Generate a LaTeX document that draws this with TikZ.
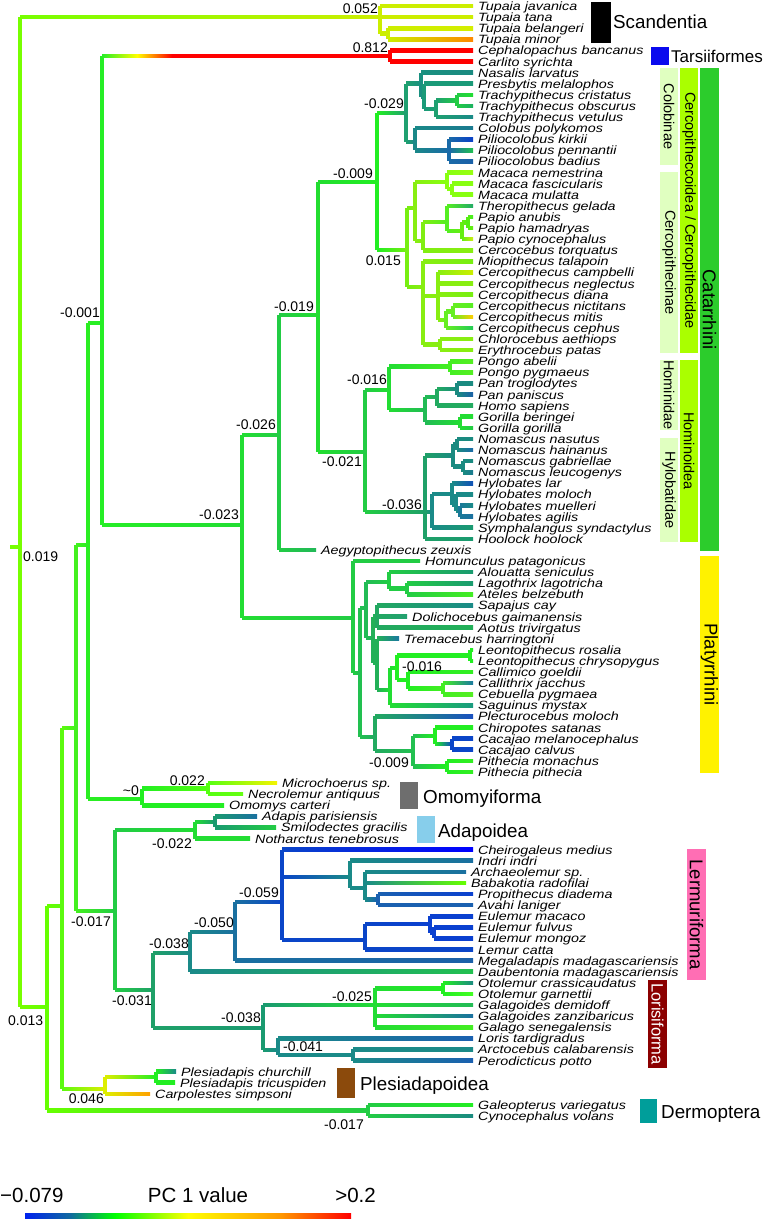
\documentclass[tikz,border=0pt]{standalone}
\usepackage{fontspec}
\setmainfont{Liberation Sans}
\usetikzlibrary{calc}
\newcommand\nd[4]{\coordinate (#1) at (#2,#3);\definecolor{kk#1}{HTML}{#4}}
\newcommand\lf[5]{\coordinate (#1) at (#2,#3);\definecolor{kk#1}{HTML}{#4}\node[leaf] (t#1) at ($(#1)+(5,4.5)$) {\scalebox{1}[0.84]{#5}};}
\newcommand\br[2]{\draw[brl,kk#1] (#1) -- (#1 |- #2);\shade[left color=kk#1,right color=kk#2] ($(#1 |- #2)+(0,-1.8)$) rectangle ($(#2)+(0,1.8)$);}
\definecolor{palegr}{HTML}{E0FFC0}
\definecolor{limegr}{HTML}{AAFF00}
\definecolor{catgr}{HTML}{2CCC2C}
\begin{document}
\begin{tikzpicture}[x=1pt,y=-1pt,
  brl/.style={line width=3.6pt,line cap=square},
  leaf/.style={font=\fontsize{14.3}{16}\selectfont\itshape,inner sep=0pt,anchor=base west},
  nlab/.style={font=\fontsize{14}{16}\selectfont,inner sep=0pt},
  clab/.style={font=\fontsize{18.8}{20}\selectfont,inner sep=0pt,anchor=base west},
  vbox/.style={rotate=-90,inner sep=0pt,font=\fontsize{14.5}{16}\selectfont},
  bigvbox/.style={rotate=-90,inner sep=0pt,font=\fontsize{18.5}{20}\selectfont},
  sqbox/.style={inner sep=0pt},
  cbl/.style={font=\fontsize{20.5}{22}\selectfont,inner sep=0pt}]
\fill[white] (0,0) rectangle (765,1219);
\useasboundingbox (0,0) rectangle (765,1219);
% ---------- backbone ----------
\nd{root}{20}{547}{77FF00}
\coordinate (stub) at (10,547);
\nd{scand}{380}{17.1}{CCEE00}
\nd{tupBM}{388}{33.75}{CCEE00}
\lf{tjav}{473}{6.0}{CCEE00}{Tupaia javanica}
\lf{ttan}{473}{17.1}{CCEE00}{Tupaia tana}
\lf{tbel}{473}{28.2}{D4EE00}{Tupaia belangeri}
\lf{tmin}{473}{39.3}{FF8800}{Tupaia minor}
\nd{n47}{47}{1007}{66FF00}
\nd{n62}{62}{906}{5CFA10}
\nd{n76}{76}{728}{44F020}
\nd{n88}{88}{545}{2AEE22}
\nd{n102}{102}{323}{26EE26}
\nd{tars}{390}{56}{FF0000}
\coordinate (tarsM) at (172,56);
\lf{ceph}{473}{50.4}{FF0000}{Cephalopachus bancanus}
\lf{carl}{473}{61.5}{FF0000}{Carlito syrichta}
% ---------- Catarrhini ----------
\nd{anth}{242}{525}{22DD33}
\nd{cat}{279}{435}{22CC44}
\lf{aegy}{316}{549.9}{22B858}{Aegyptopithecus zeuxis}
\nd{crcat}{318}{315}{22DD30}
\nd{cercid}{377}{182}{22EE22}
\nd{colob}{406}{113}{1FA070}
\nd{colA}{421}{83.7}{1A9080}
\nd{colA2}{424}{97}{1A9A78}
\nd{trach}{436}{109}{1FA070}
\nd{trachCO}{457}{100.35}{22CC44}
\nd{colB}{415}{142}{1A8888}
\nd{pil}{449}{150.3}{1A6AA8}
\lf{nasa}{473}{72.6}{1A8A80}{Nasalis larvatus}
\lf{pres}{473}{83.7}{1A9A78}{Presbytis melalophos}
\lf{tcri}{473}{94.8}{22DD33}{Trachypithecus cristatus}
\lf{tobs}{473}{105.9}{1AB060}{Trachypithecus obscurus}
\lf{tvet}{473}{117.0}{1A8A88}{Trachypithecus vetulus}
\lf{colo}{473}{128.1}{1A7A90}{Colobus polykomos}
\lf{pkir}{473}{139.2}{0A40C8}{Piliocolobus kirkii}
\lf{ppen}{473}{150.3}{20C050}{Piliocolobus pennantii}
\lf{pbad}{473}{161.4}{1A60A8}{Piliocolobus badius}
\nd{cercin}{407}{250}{77EE11}
\nd{papi}{415}{208}{88EE11}
\nd{mac}{447}{182}{88FF11}
\nd{macFM}{452}{189.15}{88FF11}
\nd{papB}{423}{241}{80EE11}
\nd{tp}{447}{222}{55EE22}
\nd{papio}{462}{231}{66EE11}
\nd{papAH}{468}{222.45}{55EE11}
\lf{mnem}{473}{172.5}{99FF11}{Macaca nemestrina}
\lf{mfas}{473}{183.6}{88FF11}{Macaca fascicularis}
\lf{mmul}{473}{194.7}{88FF11}{Macaca mulatta}
\lf{thge}{473}{205.8}{22AA66}{Theropithecus gelada}
\lf{panu}{473}{216.9}{44EE22}{Papio anubis}
\lf{pham}{473}{228.0}{66EE11}{Papio hamadryas}
\lf{pcyn}{473}{239.1}{CCEE11}{Papio cynocephalus}
\lf{ctor}{473}{250.2}{88EE11}{Cercocebus torquatus}
\nd{cerci}{423}{287}{88EE11}
\nd{cerco}{438}{296}{88EE11}
\nd{cercoB}{446}{320}{66EE22}
\nd{nm}{453}{311.25}{66EE22}
\nd{chlER}{440}{344.55}{88EE11}
\lf{mtal}{473}{261.3}{77EE11}{Miopithecus talapoin}
\lf{ccam}{473}{272.4}{CCEE00}{Cercopithecus campbelli}
\lf{cneg}{473}{283.5}{88EE11}{Cercopithecus neglectus}
\lf{cdia}{473}{294.6}{77EE11}{Cercopithecus diana}
\lf{cnic}{473}{305.7}{55EE22}{Cercopithecus nictitans}
\lf{cmit}{473}{316.8}{FFCC00}{Cercopithecus mitis}
\lf{ccep}{473}{327.9}{22CC55}{Cercopithecus cephus}
\lf{chla}{473}{339.0}{88EE11}{Chlorocebus aethiops}
\lf{eryp}{473}{350.1}{88EE11}{Erythrocebus patas}
\nd{homoid}{365}{452}{22CC44}
\nd{hominid}{389}{390}{22DD33}
\nd{pongo}{450}{366.75}{44EE22}
\nd{afr}{425}{410}{22BB55}
\nd{panH}{437}{397}{22AA60}
\nd{pan}{457}{388.95}{1A8A80}
\nd{gor}{460}{422.25}{22DD33}
\lf{pabe}{473}{361.2}{55EE22}{Pongo abelii}
\lf{ppyg}{473}{372.3}{55EE22}{Pongo pygmaeus}
\lf{ptro}{473}{383.4}{1A8A80}{Pan troglodytes}
\lf{ppan}{473}{394.5}{1A60A8}{Pan paniscus}
\lf{homo}{473}{405.6}{22AA60}{Homo sapiens}
\lf{gber}{473}{416.7}{22DD33}{Gorilla beringei}
\lf{ggor}{473}{427.8}{22CC44}{Gorilla gorilla}
\nd{hylob}{425}{512}{1FA068}
\nd{nom}{453}{455.5}{1A8A80}
\nd{nomA}{457}{444.45}{1A8A80}
\nd{nomB}{463}{466.65}{1A8A80}
\nd{hylS}{432}{512}{1A8A88}
\nd{hyl}{452}{494}{1A8A88}
\nd{hylB}{456}{505}{1A8A88}
\nd{hylC}{460}{511.05}{1A7898}
\lf{nnas}{473}{438.9}{1A8A80}{Nomascus nasutus}
\lf{nhai}{473}{450.0}{1A6AA8}{Nomascus hainanus}
\lf{ngab}{473}{461.1}{1A8A80}{Nomascus gabriellae}
\lf{nleu}{473}{472.2}{1A7A90}{Nomascus leucogenys}
\lf{hlar}{473}{483.3}{1050B8}{Hylobates lar}
\lf{hmol}{473}{494.4}{1A8A88}{Hylobates moloch}
\lf{hmue}{473}{505.5}{1A8A88}{Hylobates muelleri}
\lf{hagi}{473}{516.6}{1A70A0}{Hylobates agilis}
\lf{ssyn}{473}{527.7}{1A9A70}{Symphalangus syndactylus}
\lf{hhoo}{473}{538.8}{1A9A70}{Hoolock hoolock}
% ---------- Platyrrhini ----------
\nd{platy}{353}{618}{22CC44}
\lf{homu}{420}{561.0}{22CC44}{Homunculus patagonicus}
\nd{p1}{360}{673}{22C050}
\nd{p2}{366}{608}{22BB55}
\nd{atel}{389}{582}{22CC44}
\nd{LA}{407}{588.75}{22CC44}
\nd{ceb}{373}{638}{22B058}
\nd{cebD}{377}{616.5}{22A860}
\nd{cebE}{377}{663}{22B058}
\nd{calli}{390}{690}{22DD33}
\nd{cA}{397}{668}{22EE22}
\nd{leo}{470}{655.35}{22EE22}
\nd{cB}{408}{680}{22EE22}
\nd{cC}{443}{688.65}{44EE22}
\nd{pith}{375}{737}{22AA60}
\nd{pc}{413}{751}{22C050}
\nd{chc}{435}{736}{22EE22}
\nd{cac}{452}{744.15}{0A45C8}
\nd{pit}{447}{766.35}{22EE22}
\lf{alou}{473}{572.1}{1A9A70}{Alouatta seniculus}
\lf{lago}{473}{583.2}{1A9A70}{Lagothrix lagotricha}
\lf{atbe}{473}{594.3}{44EE22}{Ateles belzebuth}
\lf{sapa}{473}{605.4}{1A8A88}{Sapajus cay}
\lf{doli}{407}{616.5}{22A070}{Dolichocebus gaimanensis}
\lf{aotu}{473}{627.6}{22B058}{Aotus trivirgatus}
\lf{trem}{399}{638.7}{1A78A0}{Tremacebus harringtoni}
\lf{lros}{473}{649.8}{22EE22}{Leontopithecus rosalia}
\lf{lchr}{473}{660.9}{22EE22}{Leontopithecus chrysopygus}
\lf{cgoe}{473}{672.0}{33EE22}{Callimico goeldii}
\lf{cjac}{473}{683.1}{1A78A0}{Callithrix jacchus}
\lf{cpyg}{473}{694.2}{55EE22}{Cebuella pygmaea}
\lf{smys}{473}{705.3}{1A9A80}{Saguinus mystax}
\lf{pmol}{473}{716.4}{1A50C0}{Plecturocebus moloch}
\lf{csat}{473}{727.5}{22EE22}{Chiropotes satanas}
\lf{cmel}{473}{738.6}{0A45C8}{Cacajao melanocephalus}
\lf{ccal}{473}{749.7}{0A45C8}{Cacajao calvus}
\lf{pmon}{473}{760.8}{33EE22}{Pithecia monachus}
\lf{ppit}{473}{771.9}{33EE22}{Pithecia pithecia}
% ---------- Omomyiforma ----------
\nd{omo}{142}{799}{22EE22}
\nd{omoA}{208}{788.55}{55FF11}
\lf{micr}{277}{783.0}{F4F400}{Microchoerus sp.}
\lf{necr}{243}{794.1}{66FF11}{Necrolemur antiquus}
\lf{omom}{224}{805.2}{22EE22}{Omomys carteri}
% ---------- Strepsirrhini ----------
\nd{strep}{115}{911}{22CC44}
\nd{adap}{195}{830}{22DD33}
\nd{adapA}{215}{821.85}{1A9A70}
\lf{adpa}{257}{816.3}{1A70A0}{Adapis parisiensis}
\lf{smgr}{276}{827.4}{22CC44}{Smilodectes gracilis}
\lf{note}{250}{838.5}{22DD33}{Notharctus tenebrosus}
\nd{strC}{153}{990}{1FA068}
\nd{lem}{190}{953}{1A8A88}
\nd{lem50}{235}{932}{1A70A0}
\nd{lem59}{282}{902}{0A45C8}
\nd{ind}{350}{877}{1A8A88}
\nd{indB}{365}{888}{1A8A88}
\nd{pa}{378}{899.55}{1A60B0}
\nd{lemd}{365}{940}{0A45C8}
\nd{eul}{430}{924}{0A40D0}
\nd{eulFM}{434}{932.85}{0A40D0}
\lf{chme}{473}{849.6}{0000FF}{Cheirogaleus medius}
\lf{inin}{473}{860.7}{1A70A0}{Indri indri}
\lf{arch}{466}{871.8}{1A70A0}{Archaeolemur sp.}
\lf{baba}{466}{882.9}{66FF00}{Babakotia radofilai}
\lf{prdi}{473}{894.0}{0A40D0}{Propithecus diadema}
\lf{avla}{473}{905.1}{1A60B0}{Avahi laniger}
\lf{emac}{473}{916.2}{0A40D0}{Eulemur macaco}
\lf{eful}{473}{927.3}{0A40D0}{Eulemur fulvus}
\lf{emon}{473}{938.4}{0A40D0}{Eulemur mongoz}
\lf{lcat}{473}{949.5}{0A45C8}{Lemur catta}
\lf{mega}{473}{960.6}{1A60A8}{Megaladapis madagascariensis}
\lf{daub}{473}{971.7}{22C050}{Daubentonia madagascariensis}
\nd{lor}{263}{1028}{1A9A70}
\nd{gal}{375}{1005}{22DD33}
\nd{oto}{443}{988.35}{22EE22}
\nd{lorid}{278}{1050}{1A8A88}
\nd{ap}{353}{1055}{1A8A88}
\lf{ocra}{473}{982.8}{1A8A80}{Otolemur crassicaudatus}
\lf{ogar}{473}{993.9}{44FF22}{Otolemur garnettii}
\lf{gdem}{473}{1005.0}{22BB55}{Galagoides demidoff}
\lf{gzan}{473}{1016.1}{1A70A0}{Galagoides zanzibaricus}
\lf{gsen}{473}{1027.2}{44EE22}{Galago senegalensis}
\lf{ltar}{473}{1038.3}{1A60B0}{Loris tardigradus}
\lf{acal}{473}{1049.4}{1A8A88}{Arctocebus calabarensis}
\lf{ppot}{473}{1060.5}{1A60B0}{Perodicticus potto}
% ---------- Plesiadapoidea, Dermoptera ----------
\nd{ples}{105}{1089}{DDEE00}
\nd{plesA}{156}{1077.15}{22EE22}
\lf{pchu}{176}{1071.6}{1A8A88}{Plesiadapis churchill}
\lf{ptri}{175}{1082.7}{22EE22}{Plesiadapis tricuspiden}
\lf{carp}{150}{1093.8}{FFA000}{Carpolestes simpsoni}
\nd{derm}{368}{1110.45}{22CC44}
\lf{gava}{473}{1104.9}{22EE22}{Galeopterus variegatus}
\lf{cyvo}{473}{1116.0}{1A8A80}{Cynocephalus volans}
% ================= branches =================
\draw[brl,kkroot] (stub) -- (root);
\br{root}{scand}\br{root}{n47}
\br{scand}{tjav}\br{scand}{ttan}\br{scand}{tupBM}
\br{tupBM}{tbel}\br{tupBM}{tmin}
\br{n47}{n62}\br{n47}{derm}
\br{derm}{gava}\br{derm}{cyvo}
\br{n62}{n76}\br{n62}{ples}
\br{ples}{plesA}\br{ples}{carp}
\br{plesA}{pchu}\br{plesA}{ptri}
\br{n76}{n88}\br{n76}{strep}
\br{n88}{n102}\br{n88}{omo}
\br{omo}{omoA}\br{omo}{omom}
\br{omoA}{micr}\br{omoA}{necr}
\draw[brl,kkn102] (n102) -- (n102 |- tars);
\shade[left color=kkn102,right color=red,middle color=yellow] ($(n102 |- tars)+(0,-1.8)$) rectangle ($(tarsM)+(0,1.8)$);
\fill[red] ($(tarsM)+(0,-1.8)$) rectangle ($(tars)+(0,1.8)$);
\br{n102}{anth}
\br{tars}{ceph}\br{tars}{carl}
\br{anth}{cat}\br{anth}{platy}
\br{cat}{crcat}\br{cat}{aegy}
\br{crcat}{cercid}\br{crcat}{homoid}
\br{cercid}{colob}\br{cercid}{cercin}
\br{colob}{colA}\br{colob}{colB}
\br{colA}{nasa}\br{colA}{colA2}
\br{colA2}{pres}\br{colA2}{trach}
\br{trach}{trachCO}\br{trach}{tvet}
\br{trachCO}{tcri}\br{trachCO}{tobs}
\br{colB}{colo}\br{colB}{pil}
\br{pil}{pkir}\br{pil}{ppen}\br{pil}{pbad}
\br{cercin}{papi}\br{cercin}{cerci}
\br{papi}{mac}\br{papi}{papB}
\br{mac}{mnem}\br{mac}{macFM}
\br{macFM}{mfas}\br{macFM}{mmul}
\br{papB}{tp}\br{papB}{ctor}
\br{tp}{thge}\br{tp}{papio}
\br{papio}{papAH}\br{papio}{pcyn}
\br{papAH}{panu}\br{papAH}{pham}
\br{cerci}{mtal}\br{cerci}{cerco}\br{cerci}{chlER}
\br{cerco}{ccam}\br{cerco}{cneg}\br{cerco}{cdia}\br{cerco}{cercoB}
\br{cercoB}{nm}\br{cercoB}{ccep}
\br{nm}{cnic}\br{nm}{cmit}
\br{chlER}{chla}\br{chlER}{eryp}
\br{homoid}{hominid}\br{homoid}{hylob}
\br{hominid}{pongo}\br{hominid}{afr}
\br{pongo}{pabe}\br{pongo}{ppyg}
\br{afr}{panH}\br{afr}{gor}
\br{panH}{pan}\br{panH}{homo}
\br{pan}{ptro}\br{pan}{ppan}
\br{gor}{gber}\br{gor}{ggor}
\br{hylob}{nom}\br{hylob}{hylS}\br{hylob}{hhoo}
\br{nom}{nomA}\br{nom}{nomB}
\br{nomA}{nnas}\br{nomA}{nhai}
\br{nomB}{ngab}\br{nomB}{nleu}
\br{hylS}{hyl}\br{hylS}{ssyn}
\br{hyl}{hlar}\br{hyl}{hylB}
\br{hylB}{hmol}\br{hylB}{hylC}
\br{hylC}{hmue}\br{hylC}{hagi}
\br{platy}{homu}\br{platy}{p1}
\br{p1}{p2}\br{p1}{pith}
\br{p2}{atel}\br{p2}{ceb}
\br{atel}{alou}\br{atel}{LA}
\br{LA}{lago}\br{LA}{atbe}
\br{ceb}{cebD}\br{ceb}{cebE}
\br{cebD}{sapa}\br{cebD}{doli}\br{cebD}{aotu}
\br{cebE}{trem}\br{cebE}{calli}
\br{calli}{cA}\br{calli}{smys}
\br{cA}{leo}\br{cA}{cB}
\br{leo}{lros}\br{leo}{lchr}
\br{cB}{cgoe}\br{cB}{cC}
\br{cC}{cjac}\br{cC}{cpyg}
\br{pith}{pmol}\br{pith}{pc}
\br{pc}{chc}\br{pc}{pit}
\br{chc}{csat}\br{chc}{cac}
\br{cac}{cmel}\br{cac}{ccal}
\br{pit}{pmon}\br{pit}{ppit}
\br{strep}{adap}\br{strep}{strC}
\br{adap}{adapA}\br{adap}{note}
\br{adapA}{adpa}\br{adapA}{smgr}
\br{strC}{lem}\br{strC}{lor}
\br{lem}{lem50}\br{lem}{daub}
\br{lem50}{lem59}\br{lem50}{mega}
\br{lem59}{chme}\br{lem59}{ind}\br{lem59}{lemd}
\br{ind}{inin}\br{ind}{indB}
\br{indB}{arch}\br{indB}{baba}\br{indB}{pa}
\br{pa}{prdi}\br{pa}{avla}
\br{lemd}{eul}\br{lemd}{lcat}
\br{eul}{emac}\br{eul}{eulFM}
\br{eulFM}{eful}\br{eulFM}{emon}
\br{lor}{gal}\br{lor}{lorid}
\br{gal}{oto}\br{gal}{gdem}\br{gal}{gzan}\br{gal}{gsen}
\br{oto}{ocra}\br{oto}{ogar}
\br{lorid}{ltar}\br{lorid}{ap}
\br{ap}{acal}\br{ap}{ppot}
% ================= node values =================
\node[nlab,anchor=base east] (l1) at (378,13) {0.052};
\node[nlab,anchor=base east] (l2) at (388,52) {0.812};
\node[nlab,anchor=base east] (l3) at (404,108) {-0.029};
\node[nlab,anchor=base east] (l4) at (373,178) {-0.009};
\node[nlab,anchor=base east] (l5) at (401,265) {0.015};
\node[nlab,anchor=base east] (l6) at (314,311) {-0.019};
\node[nlab,anchor=base east] (l7) at (387,384) {-0.016};
\node[nlab,anchor=base east] (l8) at (362,466) {-0.021};
\node[nlab,anchor=base east] (l9) at (422,509) {-0.036};
\node[nlab,anchor=base east] (l10) at (276,429) {-0.026};
\node[nlab,anchor=base east] (l11) at (100,317) {-0.001};
\node[nlab,anchor=base east] (l12) at (239,519) {-0.023};
\node[nlab,anchor=base west] (l13) at (23,561) {0.019};
\node[nlab,anchor=base west] (l14) at (402,671) {-0.016};
\node[nlab,anchor=base east] (l15) at (409,767) {-0.009};
\node[nlab,anchor=base east] (l16) at (139,795) {\textasciitilde 0};
\node[nlab,anchor=base east] (l17) at (205,785) {0.022};
\node[nlab,anchor=base east] (l18) at (192,848) {-0.022};
\node[nlab,anchor=base east] (l19) at (111,926) {-0.017};
\node[nlab,anchor=base east] (l20) at (152,1005) {-0.031};
\node[nlab,anchor=base east] (l21) at (189,948) {-0.038};
\node[nlab,anchor=base east] (l22) at (234,927) {-0.050};
\node[nlab,anchor=base east] (l23) at (279,897) {-0.059};
\node[nlab,anchor=base east] (l24) at (261,1022) {-0.038};
\node[nlab,anchor=base east] (l25) at (372,1001) {-0.025};
\node[nlab,anchor=base west] (l26) at (283,1051) {-0.041};
\node[nlab,anchor=base east] (l27) at (364,1129) {-0.017};
\node[nlab,anchor=base west] (l28) at (8,1025) {0.013};
\node[nlab,anchor=base east] (l29) at (104,1103) {0.046};
% ================= clade labels =================
\node[sqbox,fill=black,minimum width=20pt,minimum height=41pt] (bScan) at (601,22.5) {};
\node[clab] (tScan) at (613,28) {Scandentia};
\node[sqbox,fill={rgb,255:red,10;green,10;blue,238},minimum width=18pt,minimum height=18pt] (bTars) at (660,56) {};
\node[clab,font=\fontsize{17}{18}\selectfont] (tTars) at (671,62.5) {Tarsiiformes};
\node[vbox,fill=palegr,minimum width=97pt,minimum height=18pt] (bColob) at (669,116.5) {Colobinae};
\node[vbox,fill=palegr,minimum width=181pt,minimum height=18pt] (bCercin) at (669,262.5) {Cercopithecinae};
\node[vbox,fill=limegr,minimum width=285pt,minimum height=18pt] (bCercoid) at (689,210.5) {Cercopitheccoidea / Cercopithecidae};
\node[vbox,fill=palegr,minimum width=70pt,minimum height=18pt] (bHomin) at (669,395) {Hominidae};
\node[vbox,fill=palegr,minimum width=104pt,minimum height=18pt] (bHylo) at (669,490) {Hylobatidae};
\node[vbox,fill=limegr,minimum width=182pt,minimum height=18pt] (bHominoid) at (689,451) {Hominoidea};
\node[bigvbox,fill=catgr,minimum width=483pt,minimum height=19pt] (bCat) at (709.5,309.5) {Catarrhini};
\node[bigvbox,fill=yellow,minimum width=217pt,minimum height=19pt] (bPlat) at (709.5,664.5) {Platyrrhini};
\node[sqbox,fill={rgb,255:red,110;green,110;blue,110},minimum width=18pt,minimum height=27pt] (bOmo) at (409,795.5) {};
\node[clab] (tOmo) at (423,803) {Omomyiforma};
\node[sqbox,fill={rgb,255:red,135;green,206;blue,235},minimum width=18pt,minimum height=27pt] (bAdap) at (426,829.5) {};
\node[clab] (tAdap) at (438,837) {Adapoidea};
\node[bigvbox,fill={rgb,255:red,255;green,110;blue,180},minimum width=131pt,minimum height=19pt] (bLem) at (696.5,914.5) {Lermuriforma};
\node[bigvbox,font=\fontsize{16.5}{18}\selectfont,text=white,fill={rgb,255:red,139;green,0;blue,0},minimum width=88pt,minimum height=19pt] (bLor) at (657.5,1024) {Lorisiforma};
\node[sqbox,fill={rgb,255:red,139;green,74;blue,12},minimum width=18pt,minimum height=30pt] (bPles) at (346,1083) {};
\node[clab] (tPles) at (360,1090) {Plesiadapoidea};
\node[sqbox,fill={rgb,255:red,0;green,158;blue,154},minimum width=17pt,minimum height=24pt] (bDerm) at (648.5,1111) {};
\node[clab] (tDerm) at (661,1118) {Dermoptera};
% ================= colour bar =================
\node[cbl,anchor=base west] (cbmin) at (0,1202) {−0.079};
\node[cbl,anchor=base] (cbmid) at (198,1202) {PC 1 value};
\node[cbl,anchor=base east] (cbmax) at (376,1202) {>0.2};
\coordinate (cb0) at (25,1213);
\coordinate (cb1) at (70,1219);
\coordinate (cb1t) at (70,1213);
\coordinate (cb2) at (115,1219);
\coordinate (cb2t) at (115,1213);
\coordinate (cb3) at (188,1219);
\coordinate (cb3t) at (188,1213);
\coordinate (cb4) at (280,1219);
\coordinate (cb4t) at (280,1213);
\coordinate (cb5) at (351,1219);
\shade[left color={rgb,255:red,0;green,34;blue,238},right color={rgb,255:red,16;green,106;blue,160}] (cb0) rectangle (cb1);
\shade[left color={rgb,255:red,16;green,106;blue,160},right color={rgb,255:red,0;green,255;blue,0}] (cb1t) rectangle (cb2);
\shade[left color={rgb,255:red,0;green,255;blue,0},right color=yellow] (cb2t) rectangle (cb3);
\shade[left color=yellow,right color={rgb,255:red,255;green,153;blue,0}] (cb3t) rectangle (cb4);
\shade[left color={rgb,255:red,255;green,153;blue,0},right color=red] (cb4t) rectangle (cb5);
\end{tikzpicture}
\end{document}
